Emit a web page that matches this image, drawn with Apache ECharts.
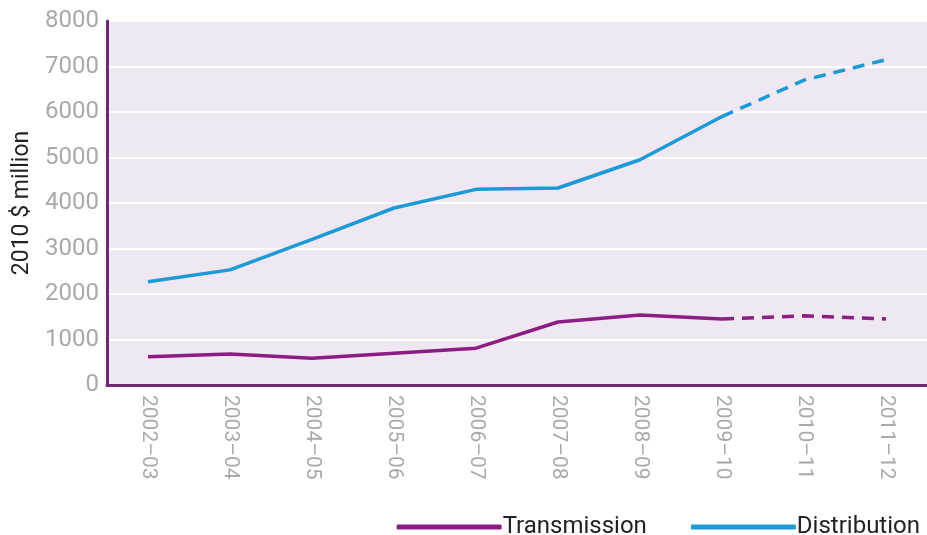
<!DOCTYPE html>
<html>
<head>
<meta charset="utf-8">
<script src="https://cdn.jsdelivr.net/npm/echarts@6/dist/echarts.min.js"></script>
<style>
  html, body { margin: 0; padding: 0; background: #fff; }
  #chart { width: 927px; height: 535px; }
</style>
</head>
<body>
<div id="chart"></div>
<script>
// financial years
const years = ['2002–03', '2003–04', '2004–05', '2005–06', '2006–07', '2007–08', '2008–09', '2009–10', '2010–11', '2011–12']
// 2010 $ million
const transmission = [620, 680, 590, 700, 810, 1385, 1540, 1450, 1520, 1450]
const distribution = [2270, 2530, 3200, 3890, 4300, 4330, 4950, 5900, 6700, 7150]
// index where the forecast (dashed) part starts
const forecastFrom = 7

const purple = '#8c1d82'
const blue = '#1b9ad6'
const font = 'Roboto, sans-serif'

// split a series into actual and forecast parts
const actualPart = arr => arr.map((v, i) => (i <= forecastFrom ? v : '-'))
const forecastPart = arr => arr.map((v, i) => (i >= forecastFrom ? v : '-'))

const lineSeries = (name, data, color, dashed) => ({
  name,
  type: 'line',
  data,
  symbol: 'none',
  lineStyle: { color, width: 3.5, type: dashed ? [12, 8] : 'solid' },
  itemStyle: { color },
  silent: true
})

const chart = echarts.init(document.getElementById('chart'))
chart.setOption({
  animation: false,
  grid: {
    left: 107, right: 0, top: 21, bottom: 150,
    show: true, backgroundColor: '#efe8f2', borderWidth: 0
  },
  legend: {
    top: 510, right: 2,
    itemWidth: 105, itemHeight: 5, itemGap: 44,
    icon: 'roundRect',
    textStyle: { fontFamily: font, fontSize: 24, color: '#222', padding: [0, 0, 0, -4] },
    data: [
      { name: 'Transmission', itemStyle: { color: purple } },
      { name: 'Distribution', itemStyle: { color: blue } }
    ]
  },
  xAxis: {
    type: 'category',
    data: years,
    boundaryGap: true,
    axisLine: { lineStyle: { color: '#6e2a6e', width: 3 } },
    axisTick: { show: false },
    axisLabel: {
      rotate: -90, margin: 10, interval: 0,
      fontFamily: font, fontSize: 21, color: '#a9a9a9'
    }
  },
  yAxis: {
    type: 'value',
    min: 0, max: 8000, interval: 1000,
    name: '2010 $ million',
    nameLocation: 'middle',
    nameGap: 68,
    nameTextStyle: { fontFamily: font, fontSize: 23, color: '#222' },
    axisLine: { show: true, lineStyle: { color: '#6e2a6e', width: 3 } },
    axisTick: { show: false },
    splitLine: { lineStyle: { color: '#ffffff', width: 2 } },
    axisLabel: {
      fontFamily: font, fontSize: 24, color: '#a9a9a9', margin: 8,
      formatter: v => String(v)
    }
  },
  series: [
    lineSeries('Transmission', actualPart(transmission), purple, false),
    lineSeries('Transmission', forecastPart(transmission), purple, true),
    lineSeries('Distribution', actualPart(distribution), blue, false),
    lineSeries('Distribution', forecastPart(distribution), blue, true)
  ]
})
</script>
</body>
</html>
